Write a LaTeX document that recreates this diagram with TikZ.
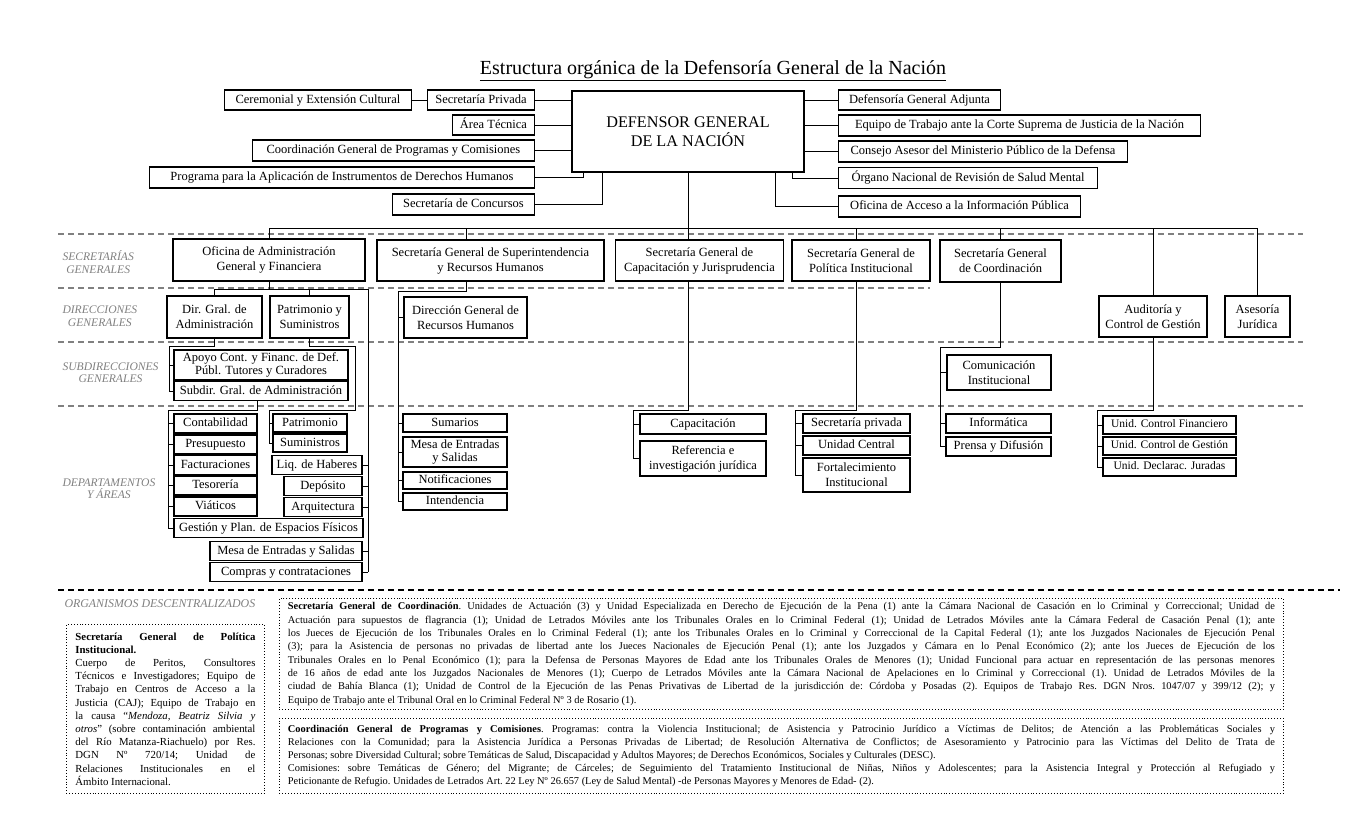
\documentclass[tikz,border=0pt]{standalone}
\usepackage{fontspec}
\setmainfont{Liberation Serif}
\definecolor{bandgray}{HTML}{808080}
\begin{document}
\begin{tikzpicture}[x=1pt, y=-1pt, line width=1pt]
\tikzstyle{frame}=[draw, line width=1.1pt, inner sep=1.5pt, align=center, font=\fontsize{12.5}{14}\selectfont]
\tikzstyle{box}=[frame, text height=9pt, text depth=3pt]
\tikzstyle{twoline}=[frame, font=\fontsize{12.5}{15}\selectfont]
\tikzstyle{small}=[box, font=\fontsize{11.5}{13}\selectfont, text height=8.5pt, text depth=2.8pt]
\tikzstyle{sep}=[draw=bandgray, dash pattern=on 6pt off 4pt, line width=1.2pt]
\tikzstyle{band}=[anchor=west, align=center, inner sep=0pt, text=bandgray, font=\fontsize{11.6}{12.5}\selectfont\itshape]
\tikzstyle{note}=[draw, dotted, line width=0.9pt, anchor=north west, inner ysep=2pt, align=justify]
\useasboundingbox (0,0) rectangle (1358,833);

\node (title) at (713,71) {\fontsize{20}{22}\selectfont\underline{Estructura orgánica de la Defensoría General de la Nación}};
\node[frame, minimum width=232, minimum height=81, font=\fontsize{16.2}{19}\selectfont] (dgn) at (688,131.5) {DEFENSOR GENERAL\\DE LA NACIÓN};

\node[box, anchor=east, minimum width=107, minimum height=20] (secpriv) at (535,100) {Secretaría Privada};
\node[box, anchor=east, minimum width=187, minimum height=20] (ceremonial) at (412,100) {Ceremonial y Extensión Cultural};
\node[box, anchor=east, minimum width=82, minimum height=20] (areatec) at (535,125) {Área Técnica};
\node[box, anchor=east, minimum width=282, minimum height=21] (coordprog) at (535,150.5) {Coordinación General de Programas y Comisiones};
\node[box, anchor=east, minimum width=385, minimum height=21] (progddhh) at (535,177.5) {Programa para la Aplicación de Instrumentos de Derechos Humanos};
\node[box, anchor=east, minimum width=142, minimum height=21] (concursos) at (535,204.5) {Secretaría de Concursos};

\node[box, anchor=west, minimum width=162, minimum height=20] (adjunta) at (838,100) {Defensoría General Adjunta};
\node[box, anchor=west, minimum width=362, minimum height=21] (equipocsjn) at (838,125.5) {Equipo de Trabajo ante la Corte Suprema de Justicia de la Nación};
\node[box, anchor=west, minimum width=289, minimum height=21] (consejo) at (838,151.5) {Consejo Asesor del Ministerio Público de la Defensa};
\node[box, anchor=west, minimum width=259, minimum height=21] (organo) at (838,178) {Órgano Nacional de Revisión de Salud Mental};
\node[box, anchor=west, minimum width=242, minimum height=21] (oficacceso) at (838,206.5) {Oficina de Acceso a la Información Pública};

\draw[sep] (58,234) -- (1303,234);
\draw[sep] (58,288) -- (930,288);
\draw[sep] (58,342) -- (1303,342);
\draw[sep] (58,406) -- (1303,406);
\draw[sep, draw=black] (58,590) -- (1340,590);

\node[band] (lsec) at (62,262) {SECRETARÍAS\\GENERALES};
\node[band] (ldir) at (62,316) {DIRECCIONES\\GENERALES};
\node[band] (lsub) at (62,372.5) {SUBDIRECCIONES\\GENERALES};
\node[band] (ldep) at (62,488.5) {DEPARTAMENTOS\\Y ÁREAS};
\node[band, font=\fontsize{11.9}{13}\selectfont\itshape] (lorg) at (64,604) {ORGANISMOS DESCENTRALIZADOS};

\node[twoline, minimum width=192, minimum height=42] (ofadm) at (269,260) {Oficina de Administración\\General y Financiera};
\node[twoline, minimum width=227, minimum height=41] (superint) at (490.5,260.5) {Secretaría General de Superintendencia\\y Recursos Humanos};
\node[twoline, minimum width=168, minimum height=41] (capac) at (699.5,260.5) {Secretaría General de\\Capacitación y Jurisprudencia};
\node[twoline, minimum width=138, minimum height=41] (politica) at (861,260.5) {Secretaría General de\\Política Institucional};
\node[twoline, minimum width=121, minimum height=42] (coordsec) at (1000.5,261) {Secretaría General\\de Coordinación};

\node[twoline, minimum width=95, minimum height=42] (dirgral) at (214.5,317) {Dir. Gral. de\\Administración};
\node[twoline, minimum width=79, minimum height=42] (patrim) at (309.5,317) {Patrimonio y\\Suministros};
\node[twoline, minimum width=123, minimum height=41] (dgrrhh) at (465.5,317.5) {Dirección General de\\Recursos Humanos};
\node[twoline, minimum width=108, minimum height=41] (auditoria) at (1153,316.5) {Auditoría y\\Control de Gestión};
\node[twoline, minimum width=65, minimum height=41] (asesoria) at (1257.5,316.5) {Asesoría\\Jurídica};

\node[frame, minimum width=174, minimum height=30, font=\fontsize{12.5}{13.5}\selectfont] (apoyo) at (261,365) {Apoyo Cont. y Financ. de Def.\\Públ. Tutores y Curadores};
\node[box, minimum width=174, minimum height=19] (subdir) at (261,391) {Subdir. Gral. de Administración};
\node[twoline, minimum width=104, minimum height=35] (comunic) at (999,372.5) {Comunicación\\Institucional};

\node[box, minimum width=83, minimum height=19] (contab) at (215.5,423.5) {Contabilidad};
\node[box, minimum width=83, minimum height=19] (presup) at (215.5,444.5) {Presupuesto};
\node[box, minimum width=83, minimum height=19] (factur) at (215.5,465) {Facturaciones};
\node[box, minimum width=83, minimum height=19] (tesor) at (215.5,485.5) {Tesorería};
\node[box, minimum width=83, minimum height=19] (viat) at (215.5,506.5) {Viáticos};
\node[box, minimum width=189, minimum height=19] (gestion) at (268.5,528) {Gestión y Plan. de Espacios Físicos};
\node[box, minimum width=74, minimum height=18] (patrimonio) at (310,423) {Patrimonio};
\node[box, minimum width=74, minimum height=18] (suministros) at (310,443) {Suministros};
\node[box, minimum width=90, minimum height=19] (liq) at (317,465) {Liq. de Haberes};
\node[box, minimum width=78, minimum height=19] (deposito) at (323,486) {Depósito};
\node[box, minimum width=78, minimum height=19] (arquit) at (323,507) {Arquitectura};
\node[box, minimum width=152, minimum height=19] (mesaadm) at (286,551) {Mesa de Entradas y Salidas};
\node[box, minimum width=152, minimum height=19] (compras) at (286,572) {Compras y contrataciones};

\node[box, minimum width=104, minimum height=18] (sumarios) at (455,423) {Sumarios};
\node[frame, minimum width=104, minimum height=30, font=\fontsize{12.5}{13}\selectfont] (mesarrhh) at (455,452) {Mesa de Entradas\\y Salidas};
\node[box, minimum width=104, minimum height=17] (notif) at (455,480.5) {Notificaciones};
\node[box, minimum width=104, minimum height=17] (intend) at (455,501.5) {Intendencia};

\node[box, minimum width=126, minimum height=20] (capacitacion) at (703,424) {Capacitación};
\node[twoline, minimum width=126, minimum height=35] (referencia) at (703,458.5) {Referencia e\\investigación jurídica};

\node[box, minimum width=107, minimum height=19] (secpriv2) at (856.5,423.5) {Secretaría privada};
\node[box, minimum width=107, minimum height=19] (ucentral) at (856.5,445.5) {Unidad Central};
\node[twoline, minimum width=107, minimum height=34] (fortalec) at (856.5,475) {Fortalecimiento\\Institucional};

\node[box, minimum width=105, minimum height=19] (informatica) at (998.5,423.5) {Informática};
\node[box, minimum width=105, minimum height=19] (prensa) at (998.5,446.5) {Prensa y Difusión};

\node[small, minimum width=133, minimum height=18] (ucfin) at (1169.5,425) {Unid. Control Financiero};
\node[small, minimum width=133, minimum height=18] (ucgest) at (1169.5,446) {Unid. Control de Gestión};
\node[small, minimum width=133, minimum height=18] (udecl) at (1169.5,467) {Unid. Declarac. Juradas};

% top connectors
\coordinate (kp) at (583,172);
\coordinate (kc) at (602,172);
\coordinate (ko) at (792,172);
\coordinate (ka) at (775,172);
\draw (ceremonial) -- (secpriv);
\draw (secpriv) -- (secpriv -| dgn.west);
\draw (areatec) -- (areatec -| dgn.west);
\draw (coordprog) -- (coordprog -| dgn.west);
\draw (progddhh.east) -| (kp);
\draw (concursos.east) -| (kc);
\draw (adjunta.west) -- (adjunta -| dgn.east);
\draw (equipocsjn.west) -- (equipocsjn -| dgn.east);
\draw (consejo.west) -- (consejo -| dgn.east);
\draw (ko) |- (organo.west);
\draw (ka) |- (oficacceso.west);

% bus
\coordinate (bus) at (0,228);
\coordinate (jsup) at (466,228);
\coordinate (jpol) at (856,228);
\draw (ofadm.north) -- (ofadm.north |- bus) -- (bus -| asesoria.north) -- (asesoria.north);
\draw (jsup) -- (jsup |- superint.north);
\draw (dgn.south) -- (dgn.south |- capac.north);
\draw (jpol) -- (jpol |- politica.north);
\draw (coordsec.north |- bus) -- (coordsec.north);
\draw (auditoria.north |- bus) -- (auditoria.north);

% oficina de administracion
\coordinate (ofbus) at (0,289);
\coordinate (jlong) at (368,289);
\draw (ofadm.south) -- (ofadm.south |- ofbus);
\draw (dirgral.north) -- (dirgral.north |- ofbus) -- (jlong) -- (jlong |- compras.east);
\draw (patrim.north) -- (patrim.north |- ofbus);
\foreach \n in {liq,deposito,arquit,mesaadm,compras}
  \draw (\n.east) -- (\n.east -| jlong);
\coordinate (jdg) at (169,346);
\draw (dirgral.south) -- (dirgral.south |- jdg) -- (jdg) -- (jdg |- subdir.west);
\foreach \n in {apoyo,subdir}
  \draw (\n.west) -- (\n.west -| jdg);
\coordinate (jpa) at (355,346);
\coordinate (jpb) at (269,410);
\draw (patrim.south) -- (patrim.south |- jpa) -- (jpa) -- (jpa |- jpb) -- (jpb) -- (jpb |- suministros.west);
\foreach \n in {patrimonio,suministros}
  \draw (\n.west) -- (\n.west -| jpb);
\coordinate (jsd0) at (257,410);
\coordinate (jsd) at (168,410);
\draw (jsd0 |- subdir.south) -- (jsd0) -- (jsd) -- (jsd |- gestion.west);
\foreach \n in {contab,presup,factur,tesor,viat,gestion}
  \draw (\n.west) -- (\n.west -| jsd);

% recursos humanos
\coordinate (jrh) at (398,291);
\draw (jsup |- superint.south) -- (jsup |- jrh) -- (jrh) -- (jrh |- intend.west);
\foreach \n in {dgrrhh,sumarios,mesarrhh,notif,intend}
  \draw (\n.west) -- (\n.west -| jrh);

% capacitacion
\coordinate (jcap) at (633,410);
\draw (dgn.south |- capac.south) -- (dgn.south |- jcap) -- (jcap) -- (jcap |- referencia.west);
\foreach \n in {capacitacion,referencia}
  \draw (\n.west) -- (\n.west -| jcap);

% politica institucional
\coordinate (jpo) at (795,410);
\draw (jpol |- politica.south) -- (jpol |- jpo) -- (jpo) -- (jpo |- fortalec.west);
\foreach \n in {secpriv2,ucentral,fortalec}
  \draw (\n.west) -- (\n.west -| jpo);

% coordinacion
\coordinate (jco) at (940,347);
\draw (coordsec.south) -- (coordsec.south |- jco) -- (jco) -- (jco |- prensa.west);
\foreach \n in {comunic,informatica,prensa}
  \draw (\n.west) -- (\n.west -| jco);

% auditoria
\coordinate (jau) at (1097,410);
\draw (auditoria.south) -- (auditoria.south |- jau) -- (jau) -- (jau |- udecl.west);
\foreach \n in {ucfin,ucgest,udecl}
  \draw (\n.west) -- (\n.west -| jau);

% organismos descentralizados
\node[note, text width=180, inner xsep=9, minimum height=169, font=\fontsize{10.8}{13.2}\selectfont\frenchspacing] (notepol) at (66,624) {\textbf{Secretaría General de Política\linebreak Institucional.}\\
Cuerpo de Peritos, Consultores\linebreak Técnicos e Investigadores; Equipo de\linebreak Trabajo en Centros de Acceso a la\linebreak Justicia (CAJ); Equipo de Trabajo en\linebreak la causa “\textit{Mendoza, Beatriz Silvia y\linebreak otros}” (sobre contaminación ambiental\linebreak del Río Matanza-Riachuelo) por Res.\linebreak DGN Nº 720/14; Unidad de\linebreak Relaciones Institucionales en el\linebreak Ámbito Internacional.};
\node[note, text width=987, inner xsep=8.5, minimum height=111, font=\fontsize{10.4}{13.3}\selectfont\frenchspacing] (notecoord) at (279,598) {\textbf{Secretaría General de Coordinación}. Unidades de Actuación (3) y Unidad Especializada en Derecho de Ejecución de la Pena (1) ante la Cámara Nacional de Casación en lo Criminal y Correccional; Unidad de\linebreak Actuación para supuestos de flagrancia (1); Unidad de Letrados Móviles ante los Tribunales Orales en lo Criminal Federal (1); Unidad de Letrados Móviles ante la Cámara Federal de Casación Penal (1); ante\linebreak los Jueces de Ejecución de los Tribunales Orales en lo Criminal Federal (1); ante los Tribunales Orales en lo Criminal y Correccional de la Capital Federal (1); ante los Juzgados Nacionales de Ejecución Penal\linebreak (3); para la Asistencia de personas no privadas de libertad ante los Jueces Nacionales de Ejecución Penal (1); ante los Juzgados y Cámara en lo Penal Económico (2); ante los Jueces de Ejecución de los\linebreak Tribunales Orales en lo Penal Económico (1); para la Defensa de Personas Mayores de Edad ante los Tribunales Orales de Menores (1); Unidad Funcional para actuar en representación de las personas menores\linebreak de 16 años de edad ante los Juzgados Nacionales de Menores (1); Cuerpo de Letrados Móviles ante la Cámara Nacional de Apelaciones en lo Criminal y Correccional (1). Unidad de Letrados Móviles de la\linebreak ciudad de Bahía Blanca (1); Unidad de Control de la Ejecución de las Penas Privativas de Libertad de la jurisdicción de: Córdoba y Posadas (2). Equipos de Trabajo Res. DGN Nros. 1047/07 y 399/12 (2); y\linebreak Equipo de Trabajo ante el Tribunal Oral en lo Criminal Federal Nº 3 de Rosario (1).};
\node[note, text width=987, inner xsep=8.5, minimum height=75, font=\fontsize{10.4}{13.2}\selectfont\frenchspacing] (noteprog) at (279,718) {\textbf{Coordinación General de Programas y Comisiones}. Programas: contra la Violencia Institucional; de Asistencia y Patrocinio Jurídico a Víctimas de Delitos; de Atención a las Problemáticas Sociales y\linebreak Relaciones con la Comunidad; para la Asistencia Jurídica a Personas Privadas de Libertad; de Resolución Alternativa de Conflictos; de Asesoramiento y Patrocinio para las Víctimas del Delito de Trata de\linebreak Personas; sobre Diversidad Cultural; sobre Temáticas de Salud, Discapacidad y Adultos Mayores; de Derechos Económicos, Sociales y Culturales (DESC).\\
Comisiones: sobre Temáticas de Género; del Migrante; de Cárceles; de Seguimiento del Tratamiento Institucional de Niñas, Niños y Adolescentes; para la Asistencia Integral y Protección al Refugiado y\linebreak Peticionante de Refugio. Unidades de Letrados Art. 22 Ley Nº 26.657 (Ley de Salud Mental) -de Personas Mayores y Menores de Edad- (2).};
\end{tikzpicture}
\end{document}
